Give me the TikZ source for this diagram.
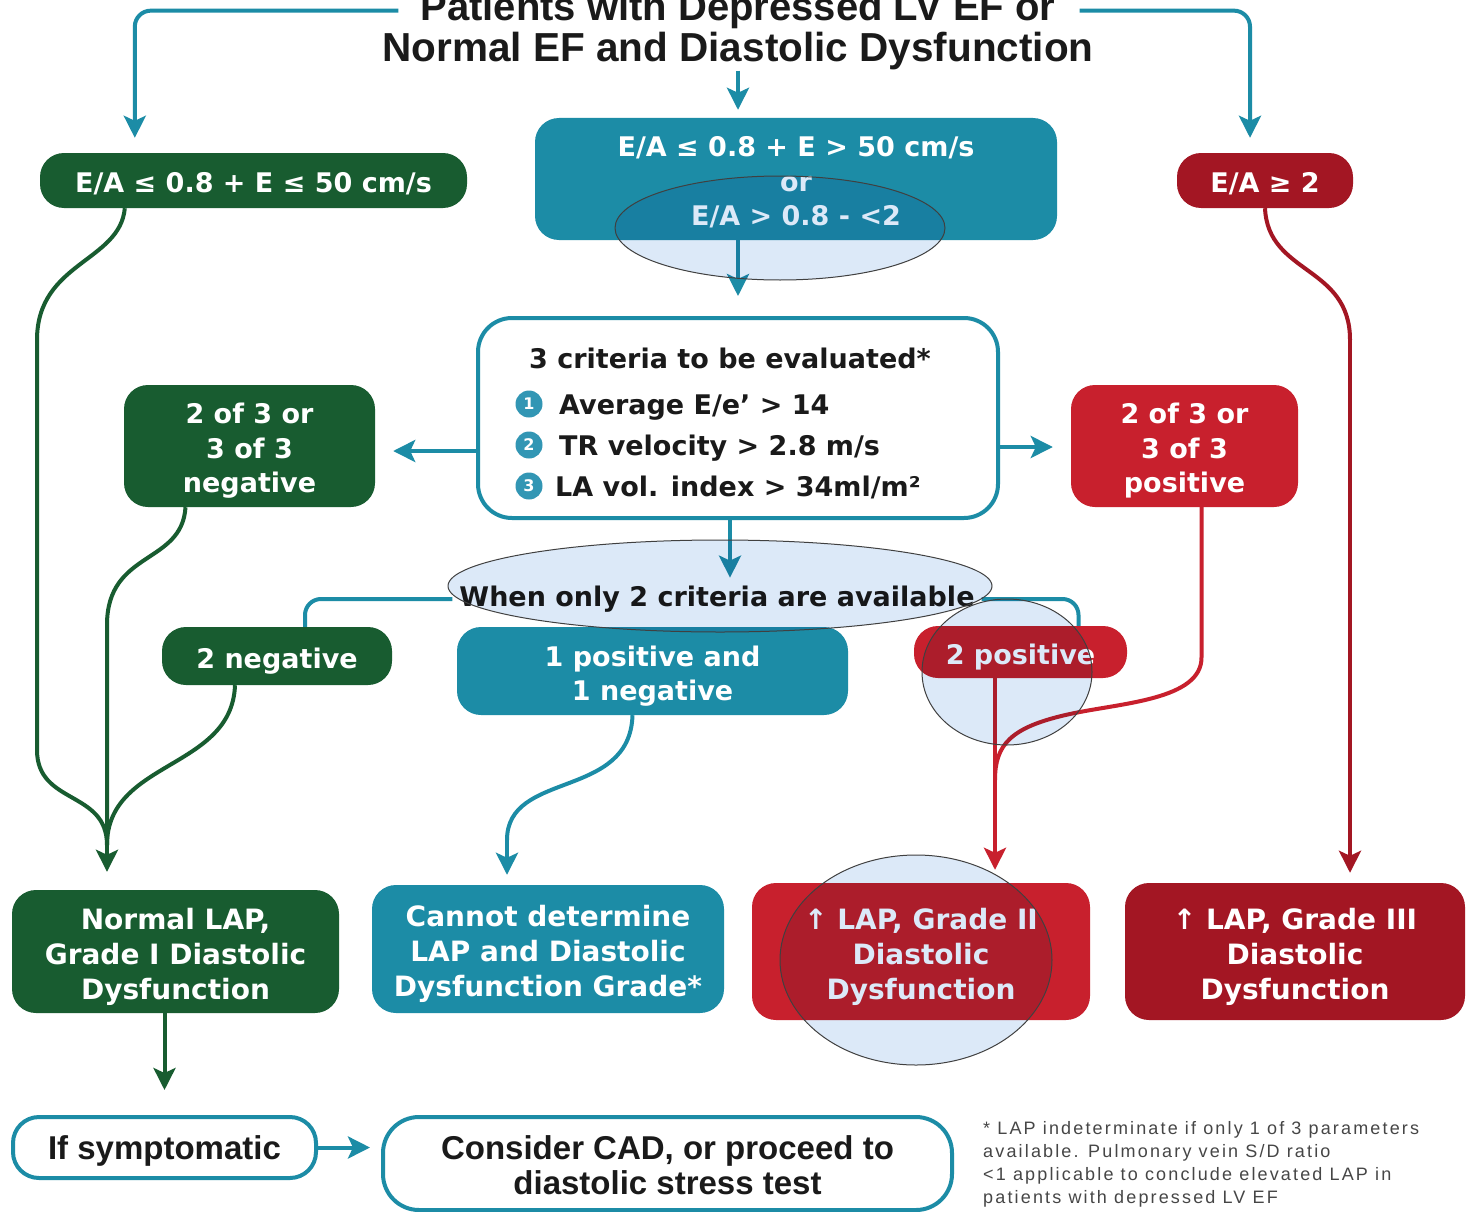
\documentclass[tikz,border=0pt]{standalone}
\usepackage{fontspec}
\setmainfont{DejaVu Sans}
\newfontfamily\helv{Liberation Sans}
\newfontfamily\notefont[LetterSpace=12]{Liberation Sans}
\usetikzlibrary{arrows.meta,calc}
\definecolor{cgreen}{RGB}{24,92,48}
\definecolor{cteal}{RGB}{28,140,166}
\definecolor{cnum}{RGB}{50,150,180}
\definecolor{cred}{RGB}{200,32,45}
\definecolor{cdred}{RGB}{163,22,35}
\definecolor{glass}{RGB}{220,233,248}
\definecolor{ink}{RGB}{26,26,26}
\definecolor{note}{RGB}{70,70,70}
\newcommand\bxt[1]{\raisebox{-5.5pt}[\height][\depth]{\begin{tabular}{@{}c@{}}#1\end{tabular}}}
\begin{document}
\begin{tikzpicture}[x=1pt,y=-1pt,
  box/.style={rounded corners=24pt, inner sep=0pt, align=center, text=white,
    font=\bfseries\fontsize{27}{34.5}\selectfont},
  gbox/.style={box, fill=cgreen},
  tbox/.style={box, fill=cteal},
  rbox/.style={box, fill=cred},
  dbox/.style={box, fill=cdred},
  wbox/.style={rounded corners=28pt, inner sep=0pt, align=center, draw=cteal, line width=4pt, fill=white, text=ink,
    font=\helv\bfseries\fontsize{33}{35}\selectfont},
  dtext/.style={inner sep=0pt, text=ink, font=\bfseries\fontsize{27}{27}\selectfont},
  num/.style={circle, fill=cnum, minimum size=27pt, inner sep=0pt, text=white, font=\bfseries\fontsize{16}{16}\selectfont},
  gl/.style={draw=cgreen, line width=4pt},
  tl/.style={draw=cteal, line width=4pt},
  rl/.style={draw=cred, line width=4pt},
  drl/.style={draw=cdred, line width=4pt},
  tip/.style={-{Stealth[length=22pt,width=22pt,inset=5pt]}},
  glassline/.style={draw=black!75, line width=1pt}
]
\useasboundingbox (0,0) rectangle (1469,1212);
\fill[white] (0,0) rectangle (1469,1212);

% title
\node[anchor=base, inner sep=0pt, text=ink, font=\helv\bfseries\fontsize{40}{40}\selectfont] (t1) at (738,21) {Patients with Depressed LV EF or};
\node[anchor=base, inner sep=0pt, text=ink, font=\helv\bfseries\fontsize{40.5}{40}\selectfont] (t2) at (738,62) {Normal EF and Diastolic Dysfunction};

% first row
\node[gbox, minimum width=427pt, minimum height=55pt] (A) at (253.5,180.5) {\bxt{E/A ≤ 0.8 + E ≤ 50 cm/s}};
\node[tbox, minimum width=522pt, minimum height=122pt] (B) at (796,179) {\bxt{E/A ≤ 0.8 + E > 50 cm/s\\or\\E/A > 0.8 - <2}};
\node[dbox, minimum width=176pt, minimum height=55pt] (C) at (1265,180.5) {\bxt{E/A ≥ 2}};

% criteria box
\node[draw=cteal, line width=4pt, fill=white, rounded corners=34pt, minimum width=520pt, minimum height=200pt, inner sep=0pt] (D) at (738,418) {};
\node[dtext, anchor=base] (dh) at (730,368) {3 criteria to be evaluated*};
\node[num] (n1) at (529,404) {1};
\node[num] (n2) at (529,445) {2};
\node[num] (n3) at (529,486) {3};
\node[dtext, anchor=base west] (d1) at (559,414) {Average E/e’ > 14};
\node[dtext, anchor=base west] (d2) at (559,455) {TR velocity > 2.8 m/s};
\node[dtext, anchor=base west] (d3) at (555,496) {LA vol. index > 34ml/m²};

\node[gbox, minimum width=251pt, minimum height=122pt] (E) at (249.5,446) {\bxt{2 of 3 or\\3 of 3\\negative}};
\node[rbox, minimum width=227pt, minimum height=122pt] (F) at (1184.5,446) {\bxt{2 of 3 or\\3 of 3\\positive}};

% when only two
\node[dtext, inner sep=7pt] (W) at (717,599) {When only 2 criteria are available};
\node[gbox, minimum width=230pt, minimum height=58pt] (G) at (277,656) {\bxt{2 negative}};
\node[tbox, minimum width=391pt, minimum height=88pt] (H) at (652.5,671) {\bxt{1 positive and\\1 negative}};
\node[rbox, minimum width=213pt, minimum height=52pt] (I) at (1020.5,652) {\bxt{2 positive}};

% results
\node[gbox, minimum width=327pt, minimum height=123pt, font=\bfseries\fontsize{28}{35}\selectfont] (J) at (175.5,951.5) {\bxt{Normal LAP,\\Grade I Diastolic\\Dysfunction}};
\node[tbox, minimum width=352pt, minimum height=128pt, font=\bfseries\fontsize{28}{35}\selectfont] (K) at (548,949) {\bxt{Cannot determine\\LAP and Diastolic\\Dysfunction Grade*}};
\node[rbox, minimum width=338pt, minimum height=137pt, font=\bfseries\fontsize{28}{35}\selectfont] (L) at (921,951.5) {\bxt{↑ LAP, Grade II\\Diastolic\\Dysfunction}};
\node[dbox, minimum width=340pt, minimum height=137pt, font=\bfseries\fontsize{28}{35}\selectfont] (M) at (1295,951.5) {\bxt{↑ LAP, Grade III\\Diastolic\\Dysfunction}};

% bottom
\node[wbox, minimum width=303pt, minimum height=61pt, rounded corners=26pt] (N) at (164.5,1147.5) {\raisebox{-3pt}[\height][\depth]{If symptomatic}};
\node[wbox, minimum width=569pt, minimum height=93pt, rounded corners=36pt] (O) at (667.5,1163.5) {\raisebox{-6pt}[\height][\depth]{\begin{tabular}{@{}c@{}}Consider CAD, or proceed to\\diastolic stress test\end{tabular}}};
\node[anchor=north west, inner sep=0pt, align=left, text=note, font=\notefont\fontsize{18}{23}\selectfont] (fn) at (983,1121)
  {* LAP indeterminate if only 1 of 3 parameters\\available. Pulmonary vein S/D ratio\\<1 applicable to conclude elevated LAP in\\patients with depressed LV EF};

% helper coordinates
\coordinate (aS) at ($(A.south west)+(85,0)$);
\coordinate (mL) at (107,845);
\coordinate (hS) at ($(H.south)+(-20,0)$);
\coordinate (mK) at (507,840);
\coordinate (iS) at (995,678);
\coordinate (mR) at (995,780);
\coordinate (fS) at ($(F.south)+(17,0)$);
\coordinate (cV) at (1350,340);

% connectors from title
\draw[tl, tip, rounded corners=16pt, shorten >=15pt] ([xshift=-22pt]t1.west) -| ($(A.north west)+(95,0)$);
\draw[tl, tip, rounded corners=16pt, shorten >=15pt] ([xshift=24pt]t1.east) -| ($(C.north)+(-15,0)$);
\draw[tl, tip, shorten >=8pt] (t2.south) -- (t2.south |- B.north);
\draw[tl, tip, shorten >=20pt] (D.north |- B.south) -- (D.north);
\draw[tl, tip, shorten >=18pt] ($(D.west)+(0,33)$) -- ($(E.east)+(0,5)$);
\draw[tl, tip, shorten >=18pt] ($(D.east)+(0,29)$) -- ($(F.west)+(0,1)$);
\draw[tl, tip, shorten >=1pt] ($(D.south)+(-8,0)$) -- ($(W.north)+(13,0)$);
\draw[tl, rounded corners=16pt] (W.west) -| ($(G.north)+(28,0)$);
\draw[tl, rounded corners=16pt] (W.east) -| ($(I.north)+(58,0)$);

% green
\draw[gl] (aS) .. controls (120,262) and (37,262) .. (37,340) -- (37,750) .. controls (37,805) and (107,790) .. (mL);
\draw[gl] ($(E.south)+(-64,0)$) .. controls (182,565) and (107,550) .. (107,625) -- (mL);
\draw[gl] ($(G.south)+(-42,0)$) .. controls (232,770) and (107,760) .. (mL);
\draw[gl, tip, shorten >=18pt] (mL) -- (mL |- J.north);

% teal
\draw[tl] (hS) .. controls (630,800) and (507,770) .. (mK);
\draw[tl, tip, shorten >=10pt] (mK) -- (mK |- K.north);

% red
\draw[rl] (fS) -- ($(fS)+(0,150)$) .. controls (1202,700) and (1120,703) .. (1070,714) .. controls (1010,727) and (995,745) .. (mR);
\draw[rl, tip, shorten >=13pt] (iS) -- (iS |- L.north);

% dark red
\draw[drl] (C.south) .. controls (1268,275) and (1350,265) .. (cV);
\draw[drl, tip, shorten >=10pt] (cV) -- (cV |- M.north);

% bottom arrows
\draw[gl, tip, shorten >=25pt] (N.north |- J.south) -- (N.north);
\draw[tl, tip, shorten >=11pt] (N.east) -- (O.west |- N.east);

% glass highlights
\begin{scope}[blend mode=multiply]
\fill[glass] (780,228) ellipse [x radius=165, y radius=52];
\fill[glass] (720,586) ellipse [x radius=272, y radius=46];
\fill[glass] (1007,672) ellipse [x radius=85, y radius=73];
\fill[glass] (916,960) ellipse [x radius=136, y radius=105];
\end{scope}
\draw[glassline] (780,228) ellipse [x radius=165, y radius=52];
\draw[glassline] (720,586) ellipse [x radius=272, y radius=46];
\draw[glassline] (1007,672) ellipse [x radius=85, y radius=73];
\draw[glassline] (916,960) ellipse [x radius=136, y radius=105];
\end{tikzpicture}
\end{document}
